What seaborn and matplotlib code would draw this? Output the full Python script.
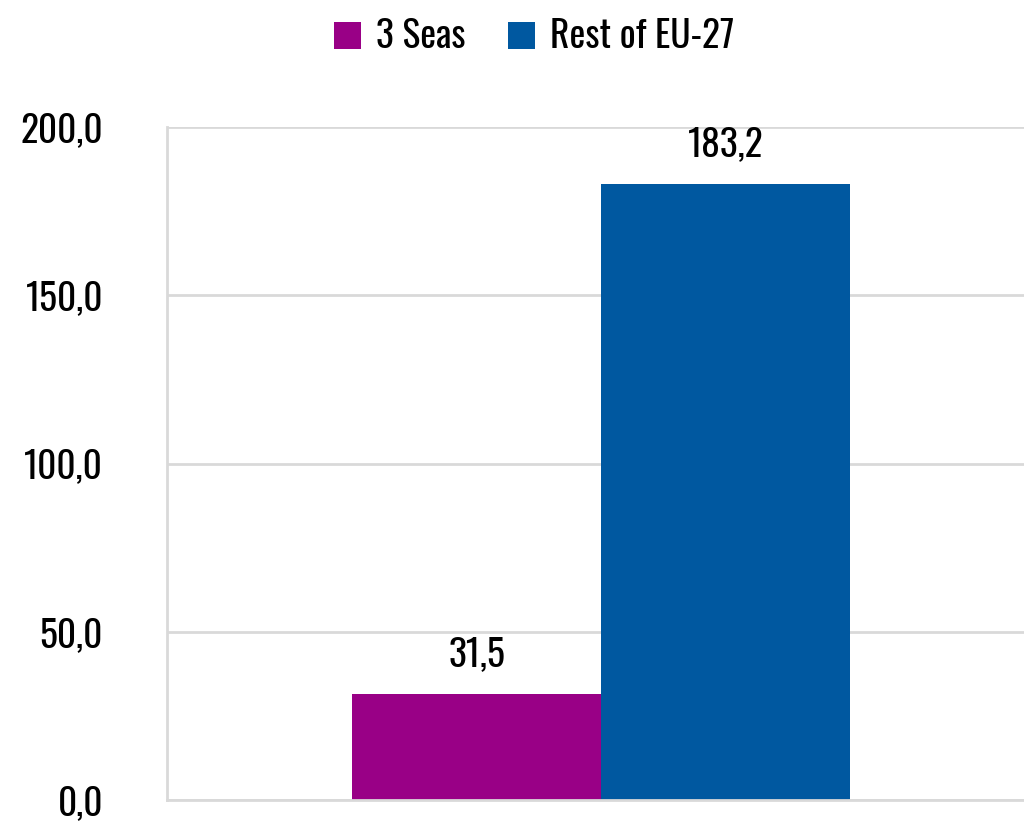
import matplotlib
matplotlib.use("Agg")
import matplotlib.pyplot as plt
import seaborn as sns
import pandas as pd
from matplotlib import font_manager

# Data
groups = ["3 Seas", "Rest of EU-27"]
values = [31.5, 183.2]
category = ["Total"]
colors = ["#990086", "#0058A0"]
y_ticks = [0, 50, 100, 150, 200]

df = pd.DataFrame({"category": category * len(groups), "group": groups, "value": values})

sns.set_theme(style="white")
names = {f.name for f in font_manager.fontManager.ttflist}
family = next((n for n in ["Oswald", "Roboto Condensed", "Barlow Condensed", "Roboto"]
               if n in names), "DejaVu Sans")
plt.rcParams["font.family"] = [family, "DejaVu Sans"]
plt.rcParams["text.color"] = "black"
plt.rcParams["ytick.color"] = "black"

FS = 27

fig = plt.figure(figsize=(10.24, 8.26), dpi=100)
# y=0 at pixel row 800, y=200 at pixel row 127; category spans past the right edge
ax = fig.add_axes([167 / 1024, 1 - 800 / 826, (1035 - 167) / 1024, (800 - 127) / 826])

sns.barplot(data=df, x="category", y="value", hue="group", palette=colors,
            width=0.573, saturation=1, linewidth=0, ax=ax, legend=True)

ax.set_ylim(0, 200)
ax.set_yticks(y_ticks)
ax.set_yticklabels([f"{v:.1f}".replace(".", ",") for v in y_ticks], fontsize=FS)
ax.set_xticks([])
ax.set_xlabel("")
ax.set_ylabel("")
ax.tick_params(axis="y", length=0, pad=46, colors="black")

ax.grid(axis="y", color="#d9d9d9", linewidth=2)
ax.set_axisbelow(True)
for side in ["top", "right"]:
    ax.spines[side].set_visible(False)
for side in ["left", "bottom"]:
    ax.spines[side].set_color("#d9d9d9")
    ax.spines[side].set_linewidth(2)

for cont in ax.containers:
    ax.bar_label(cont, labels=[f"{v:.1f}".replace(".", ",") for v in cont.datavalues],
                 padding=15, fontsize=FS, color="black")

handles, labels = ax.get_legend_handles_labels()
ax.legend_.remove()
fig.legend(handles, labels, loc="center", bbox_to_anchor=(534 / 1024, 1 - 37 / 826),
           ncol=2, frameon=False, fontsize=FS, handlelength=0.72, handleheight=0.72,
           handletextpad=0.4, columnspacing=1.15)

fig.savefig("out.png", dpi=100)
